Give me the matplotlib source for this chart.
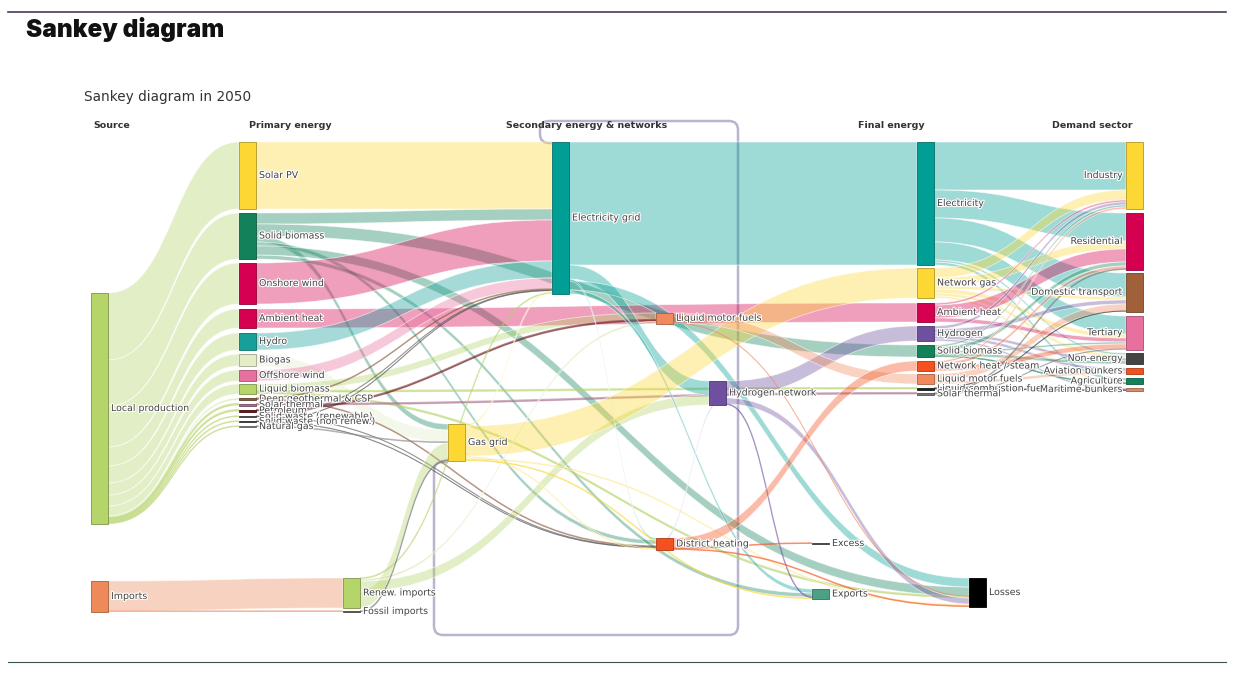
import matplotlib
matplotlib.use("Agg")
import matplotlib.pyplot as plt
from matplotlib.path import Path
from matplotlib.patches import PathPatch, Rectangle
import matplotlib.patheffects as pe
from matplotlib.colors import to_rgb

# ---- nodes: "stage|label" and colour ----
node_names = [
    "src|Local production", "src|Imports",
    "pri|Solar PV", "pri|Solid biomass", "pri|Onshore wind", "pri|Ambient heat", "pri|Hydro",
    "pri|Biogas", "pri|Offshore wind", "pri|Liquid biomass", "pri|Deep geothermal & CSP",
    "pri|Solar thermal", "pri|Petroleum", "pri|Solid waste (renewable)",
    "pri|Solid waste (non renew.)", "pri|Natural gas",
    "imp|Renew. imports", "imp|Fossil imports",
    "sec|Gas grid", "sec|Electricity grid", "sec|Liquid motor fuels", "sec|District heating",
    "sec|Hydrogen network", "out|Excess", "out|Exports",
    "fin|Electricity", "fin|Network gas", "fin|Ambient heat", "fin|Hydrogen", "fin|Solid biomass",
    "fin|Network heat / steam", "fin|Liquid motor fuels", "fin|Liquid combustion fuels",
    "fin|Solar thermal", "out|Losses",
    "dem|Industry", "dem|Residential", "dem|Domestic transport", "dem|Tertiary",
    "dem|Non-energy", "dem|Aviation bunkers", "dem|Agriculture", "dem|Maritime bunkers",
]
node_colors = [
    "#b5d46a", "#ee8a5a",
    "#fdd835", "#13825a", "#d5004f", "#d5004f", "#17a09a",
    "#e3edc8", "#e8709f", "#b5d46a", "#8b5a3c",
    "#a86b8b", "#6b1515", "#555555",
    "#444444", "#888888",
    "#b5d46a", "#666666",
    "#fdd835", "#009e94", "#f08a5d", "#f4511e",
    "#6e4fa0", "#555555", "#4aa283",
    "#009e94", "#fdd835", "#d5004f", "#6e4fa0", "#13825a",
    "#f4511e", "#f08a5d", "#222222",
    "#777777", "#000000",
    "#fdd835", "#d5004f", "#a0603a", "#e8709f",
    "#444444", "#f4511e", "#13825a", "#d98a6a",
]

# ---- flows (TWh) ----
link_source = (
    ["src|Local production"] * 14 + ["src|Imports"] * 2
    + ["pri|Solar PV"] + ["pri|Solid biomass"] * 6 + ["pri|Onshore wind", "pri|Ambient heat",
       "pri|Hydro", "pri|Biogas", "pri|Offshore wind"]
    + ["pri|Liquid biomass"] * 3 + ["pri|Deep geothermal & CSP"] * 2
    + ["pri|Solar thermal", "pri|Petroleum"]
    + ["pri|Solid waste (renewable)"] * 2 + ["pri|Solid waste (non renew.)"] * 2
    + ["pri|Natural gas"] + ["imp|Renew. imports"] * 4 + ["imp|Fossil imports"]
    + ["sec|Electricity grid"] * 5 + ["sec|Gas grid"] * 5 + ["sec|Hydrogen network"] * 4
    + ["sec|Liquid motor fuels"] * 2 + ["sec|District heating"] * 3
    + ["fin|Electricity"] * 6 + ["fin|Network gas"] * 6 + ["fin|Ambient heat"] * 3
    + ["fin|Hydrogen"] * 5 + ["fin|Solid biomass"] * 5 + ["fin|Network heat / steam"] * 3
    + ["fin|Liquid motor fuels"] * 2 + ["fin|Liquid combustion fuels"] * 2
    + ["fin|Solar thermal"] * 2
)
link_target = [
    "pri|Solar PV", "pri|Solid biomass", "pri|Onshore wind", "pri|Ambient heat", "pri|Hydro",
    "pri|Biogas", "pri|Offshore wind", "pri|Liquid biomass", "pri|Deep geothermal & CSP",
    "pri|Solar thermal", "pri|Petroleum", "pri|Solid waste (renewable)",
    "pri|Solid waste (non renew.)", "pri|Natural gas",
    "imp|Renew. imports", "imp|Fossil imports",
    "sec|Electricity grid",
    "sec|Electricity grid", "fin|Solid biomass", "sec|Gas grid", "sec|District heating",
    "out|Exports", "out|Losses",
    "sec|Electricity grid", "fin|Ambient heat", "sec|Electricity grid", "sec|Gas grid",
    "sec|Electricity grid",
    "sec|Liquid motor fuels", "fin|Liquid combustion fuels", "out|Losses",
    "sec|Electricity grid", "sec|District heating",
    "fin|Solar thermal", "sec|Liquid motor fuels",
    "sec|District heating", "sec|Electricity grid",
    "sec|District heating", "sec|Electricity grid",
    "sec|Gas grid",
    "sec|Gas grid", "sec|Hydrogen network", "sec|Electricity grid", "sec|Liquid motor fuels",
    "sec|Gas grid",
    "fin|Electricity", "sec|Hydrogen network", "out|Losses", "out|Exports", "sec|District heating",
    "fin|Network gas", "sec|Electricity grid", "sec|District heating", "out|Losses", "out|Exports",
    "fin|Hydrogen", "out|Losses", "sec|District heating", "out|Exports",
    "fin|Liquid motor fuels", "out|Losses",
    "fin|Network heat / steam", "out|Excess", "out|Losses",
    "dem|Industry", "dem|Residential", "dem|Domestic transport", "dem|Tertiary",
    "dem|Agriculture", "dem|Non-energy",
    "dem|Industry", "dem|Residential", "dem|Tertiary", "dem|Domestic transport",
    "dem|Non-energy", "dem|Agriculture",
    "dem|Residential", "dem|Tertiary", "dem|Industry",
    "dem|Industry", "dem|Domestic transport", "dem|Non-energy", "dem|Aviation bunkers",
    "dem|Maritime bunkers",
    "dem|Industry", "dem|Residential", "dem|Tertiary", "dem|Agriculture", "dem|Non-energy",
    "dem|Industry", "dem|Residential", "dem|Tertiary",
    "dem|Domestic transport", "dem|Aviation bunkers",
    "dem|Maritime bunkers", "dem|Domestic transport",
    "dem|Residential", "dem|Tertiary",
]
link_value = [
    67, 46, 41, 19, 17, 12, 11, 10, 2, 1.5, 1.5, 1, 1, 1,
    30, 1,
    67,
    11, 12, 6, 4, 4, 9,
    41, 19, 17, 12, 11,
    7, 1.5, 1.5,
    1, 1,
    1.5, 1.5,
    0.5, 0.5,
    0.5, 0.5,
    1,
    17, 10, 1, 2,
    1,
    123, 14, 9, 4, 2,
    30, 2, 2, 2, 1,
    15, 6, 2, 1,
    10, 0.5,
    10, 1, 1,
    48, 28, 24, 18, 3, 2,
    10, 8, 4, 3, 3, 2,
    13, 4, 2,
    3, 4, 3, 3, 2,
    2, 4, 2, 1, 3,
    2, 3, 5,
    7, 3,
    1, 0.5,
    1, 0.5,
]

column_titles = ["Source", "Primary energy", "Secondary energy & networks",
                 "Final energy", "Demand sector"]

# ---- layout (pixel space of the 1242x679 canvas) ----
SCALE = 1.0      # px per TWh
NODE_W = 17
node_pos = {  # left edge, top edge
    "src|Local production": (91, 293), "src|Imports": (91, 581),
    "pri|Solar PV": (239, 142), "pri|Solid biomass": (239, 213), "pri|Onshore wind": (239, 263),
    "pri|Ambient heat": (239, 309), "pri|Hydro": (239, 333), "pri|Biogas": (239, 354),
    "pri|Offshore wind": (239, 370), "pri|Liquid biomass": (239, 384),
    "pri|Deep geothermal & CSP": (239, 398), "pri|Solar thermal": (239, 404),
    "pri|Petroleum": (239, 410), "pri|Solid waste (renewable)": (239, 416),
    "pri|Solid waste (non renew.)": (239, 421), "pri|Natural gas": (239, 426),
    "imp|Renew. imports": (343, 578), "imp|Fossil imports": (343, 611),
    "sec|Gas grid": (448, 424), "sec|Electricity grid": (552, 142),
    "sec|Liquid motor fuels": (656, 313), "sec|District heating": (656, 538),
    "sec|Hydrogen network": (709, 381), "out|Excess": (812, 543), "out|Exports": (812, 589),
    "fin|Electricity": (917, 142), "fin|Network gas": (917, 268), "fin|Ambient heat": (917, 303),
    "fin|Hydrogen": (917, 326), "fin|Solid biomass": (917, 345),
    "fin|Network heat / steam": (917, 361), "fin|Liquid motor fuels": (917, 374),
    "fin|Liquid combustion fuels": (917, 388), "fin|Solar thermal": (917, 393),
    "out|Losses": (969, 578),
    "dem|Industry": (1126, 142), "dem|Residential": (1126, 213),
    "dem|Domestic transport": (1126, 273), "dem|Tertiary": (1126, 316),
    "dem|Non-energy": (1126, 353), "dem|Aviation bunkers": (1126, 368),
    "dem|Agriculture": (1126, 378), "dem|Maritime bunkers": (1126, 388),
}

color_of = dict(zip(node_names, node_colors))

# node heights from flows
inflow = {n: 0.0 for n in node_names}
outflow = {n: 0.0 for n in node_names}
for s, t, v in zip(link_source, link_target, link_value):
    outflow[s] += v
    inflow[t] += v
height = {n: max(inflow[n], outflow[n]) * SCALE for n in node_names}
center = {n: node_pos[n][1] + height[n] / 2 for n in node_names}

fig = plt.figure(figsize=(12.42, 6.79), dpi=100)
ax = fig.add_axes([0, 0, 1, 1])
ax.set_xlim(0, 1242)
ax.set_ylim(679, 0)
ax.axis("off")

# link offsets, ordered by the other end's position
links = list(range(len(link_value)))
out_off, in_off = {}, {}
for n in node_names:
    outs = sorted([i for i in links if link_source[i] == n], key=lambda i: center[link_target[i]])
    y = node_pos[n][1]
    for i in outs:
        out_off[i] = y
        y += link_value[i] * SCALE
    ins = sorted([i for i in links if link_target[i] == n], key=lambda i: center[link_source[i]])
    y = node_pos[n][1]
    for i in ins:
        in_off[i] = y
        y += link_value[i] * SCALE

for i in links:
    s, t, v = link_source[i], link_target[i], link_value[i] * SCALE
    x0 = node_pos[s][0] + NODE_W
    x1 = node_pos[t][0]
    y0, y1 = out_off[i], in_off[i]
    xm = (x0 + x1) / 2
    verts = [(x0, y0), (xm, y0), (xm, y1), (x1, y1), (x1, y1 + v),
             (xm, y1 + v), (xm, y0 + v), (x0, y0 + v), (x0, y0)]
    codes = [Path.MOVETO, Path.CURVE4, Path.CURVE4, Path.CURVE4, Path.LINETO,
             Path.CURVE4, Path.CURVE4, Path.CURVE4, Path.CLOSEPOLY]
    c = color_of[s]
    lw = 0.6 if v >= 2 else 0.0
    ax.add_patch(PathPatch(Path(verts, codes), facecolor=(*to_rgb(c), 0.38),
                           edgecolor=(1, 1, 1, 0.6), lw=lw, zorder=2))
    if v < 2:
        # very thin flows drawn as a line so they stay visible
        ax.add_patch(PathPatch(Path(verts[:4], codes[:4]), facecolor="none",
                               edgecolor=(*to_rgb(c), 0.55), lw=max(v, 0.8), zorder=2))

# nodes and labels
halo = [pe.withStroke(linewidth=1.6, foreground="white")]
for n in node_names:
    x, y = node_pos[n]
    c = to_rgb(color_of[n])
    edge = tuple(k * 0.7 for k in c)
    h = max(height[n], 1.0)
    ax.add_patch(Rectangle((x, y), NODE_W, h, facecolor=c, edgecolor=edge, lw=0.6, zorder=4))
    stage, label = n.split("|")
    if stage == "dem":
        ax.text(x - 3, y + h / 2, label, ha="right", va="center", fontsize=6.8,
                color="#444444", zorder=5, path_effects=halo)
    else:
        ax.text(x + NODE_W + 3, y + h / 2, label, ha="left", va="center", fontsize=6.8,
                color="#444444", zorder=5, path_effects=halo)

# bracket around secondary energy & networks
r = 9
box = [
    (Path.MOVETO, (552, 143)), (Path.LINETO, (540 + r, 143)), (Path.CURVE3, (540, 143)),
    (Path.CURVE3, (540, 143 - r)), (Path.LINETO, (540, 121 + r)), (Path.CURVE3, (540, 121)),
    (Path.CURVE3, (540 + r, 121)), (Path.LINETO, (738 - r, 121)), (Path.CURVE3, (738, 121)),
    (Path.CURVE3, (738, 121 + r)), (Path.LINETO, (738, 635 - r)), (Path.CURVE3, (738, 635)),
    (Path.CURVE3, (738 - r, 635)), (Path.LINETO, (434 + r, 635)), (Path.CURVE3, (434, 635)),
    (Path.CURVE3, (434, 635 - r)), (Path.LINETO, (434, 462 + r)), (Path.CURVE3, (434, 462)),
    (Path.CURVE3, (434 + r, 462)), (Path.LINETO, (448, 462)),
]
ax.add_patch(PathPatch(Path([p for _, p in box], [c for c, _ in box]), facecolor="none",
                       edgecolor="#b9b5cc", lw=1.8, zorder=1))

# column titles
hdr = dict(fontsize=6.8, fontweight="bold", color="#333333", va="center")
ax.text(93, 126, column_titles[0], ha="left", **hdr)
ax.text(249, 126, column_titles[1], ha="left", **hdr)
ax.text(587, 126, column_titles[2], ha="center", **hdr)
ax.text(925, 126, column_titles[3], ha="right", **hdr)
ax.text(1133, 126, column_titles[4], ha="right", **hdr)

# page furniture
ax.plot([8, 1226], [12, 12], color="#4b3b5e", lw=1.2)
ax.plot([8, 1226], [662, 662], color="#3b5555", lw=0.8)
ax.text(26, 29, "Sankey diagram", ha="left", va="center", fontsize=17.5,
        fontweight="black", family="Inter", color="#111111")
ax.text(84, 97, "Sankey diagram in 2050", ha="left", va="center", fontsize=9.8,
        color="#333333")

fig.savefig("out.png", dpi=100)
